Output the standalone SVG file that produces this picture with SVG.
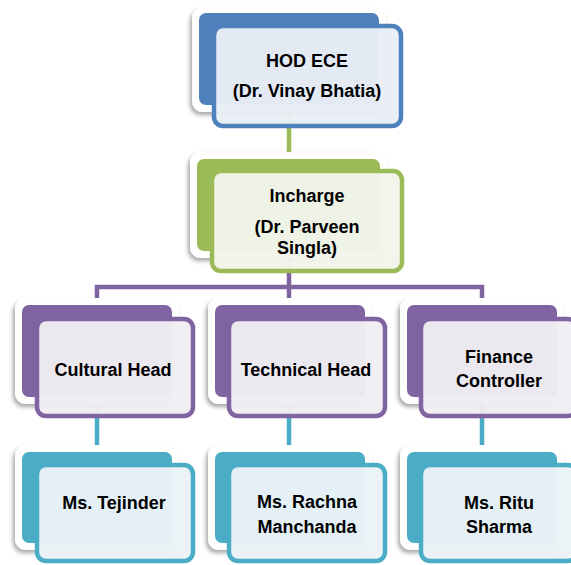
<svg xmlns="http://www.w3.org/2000/svg" width="571" height="565" viewBox="0 0 571 565">
<defs>
<filter id="sh" x="-20%" y="-20%" width="140%" height="150%">
<feDropShadow dx="-2" dy="3" stdDeviation="2.2" flood-color="#000" flood-opacity="0.35"/>
</filter>
</defs>
<style>
.halo{fill:#fff;filter:url(#sh)}
.t{font-family:"Liberation Sans",Arial,sans-serif;font-weight:bold;font-size:18px;fill:#000;text-anchor:middle}
.blue .back{fill:#4F81BD}.blue .front{fill:#E9EEF6;fill-opacity:0.96;stroke:#4F81BD;stroke-width:4.5}
.green .back{fill:#9BBB59}.green .front{fill:#F2F5EC;fill-opacity:0.96;stroke:#9BBB59;stroke-width:4.5}
.purple .back{fill:#8064A2}.purple .front{fill:#EFEDF3;fill-opacity:0.96;stroke:#8064A2;stroke-width:4.5}
.cyan .back{fill:#4BACC6}.cyan .front{fill:#EAF3F7;fill-opacity:0.96;stroke:#4BACC6;stroke-width:4.5}
.c{fill:none;stroke-width:4.5}
</style>
<rect width="571" height="565" fill="#fff"/>
<g id="connectors">
<path class="c" stroke="#9BBB59" d="M289 105V171"/>
<path class="c" stroke="#8064A2" d="M289 251V287M97 305V287H482V305M289 287V305"/>
<path class="c" stroke="#4BACC6" d="M97 397V452M289 397V452M482 397V452"/>
</g>
<g id="hod" class="blue">
<rect class="halo" x="192" y="7" width="194" height="105" rx="11"/>
<rect class="back" x="199" y="13" width="180" height="92" rx="7"/>
<rect class="front" x="214" y="26" width="187" height="100" rx="9"/>
<text class="t" x="307" y="67">HOD ECE</text>
<text class="t" x="307" y="97">(Dr. Vinay Bhatia)</text>
</g>
<g id="incharge" class="green">
<rect class="halo" x="190" y="152" width="197" height="106" rx="11"/>
<rect class="back" x="197" y="159" width="183" height="92" rx="7"/>
<rect class="front" x="212" y="171" width="190" height="100" rx="9"/>
<text class="t" x="307" y="202">Incharge</text>
<text class="t" x="307" y="233">(Dr. Parveen</text>
<text class="t" x="307" y="254">Singla)</text>
</g>
<g id="cultural" class="purple">
<rect class="halo" x="15" y="298" width="164" height="106" rx="11"/>
<rect class="back" x="22" y="305" width="150" height="92" rx="7"/>
<rect class="front" x="37" y="319" width="156" height="97" rx="9"/>
<text class="t" x="113" y="376">Cultural Head</text>
</g>
<g id="technical" class="purple">
<rect class="halo" x="208" y="298" width="164" height="106" rx="11"/>
<rect class="back" x="215" y="305" width="150" height="92" rx="7"/>
<rect class="front" x="229" y="319" width="156" height="97" rx="9"/>
<text class="t" x="306" y="376">Technical Head</text>
</g>
<g id="finance" class="purple">
<rect class="halo" x="400" y="298" width="164" height="106" rx="11"/>
<rect class="back" x="407" y="305" width="150" height="92" rx="7"/>
<rect class="front" x="421" y="319" width="156" height="97" rx="9"/>
<text class="t" x="499" y="363">Finance</text>
<text class="t" x="499" y="387">Controller</text>
</g>
<g id="tejinder" class="cyan">
<rect class="halo" x="15" y="445" width="164" height="105" rx="11"/>
<rect class="back" x="22" y="452" width="150" height="91" rx="7"/>
<rect class="front" x="37" y="465" width="156" height="96" rx="9"/>
<text class="t" x="114" y="509">Ms. Tejinder</text>
</g>
<g id="rachna" class="cyan">
<rect class="halo" x="208" y="445" width="164" height="105" rx="11"/>
<rect class="back" x="215" y="452" width="150" height="91" rx="7"/>
<rect class="front" x="229" y="465" width="156" height="96" rx="9"/>
<text class="t" x="307" y="508">Ms. Rachna</text>
<text class="t" x="307" y="533">Manchanda</text>
</g>
<g id="ritu" class="cyan">
<rect class="halo" x="400" y="445" width="164" height="105" rx="11"/>
<rect class="back" x="407" y="452" width="150" height="91" rx="7"/>
<rect class="front" x="421" y="465" width="156" height="96" rx="9"/>
<text class="t" x="499" y="509">Ms. Ritu</text>
<text class="t" x="499" y="533">Sharma</text>
</g>
</svg>
